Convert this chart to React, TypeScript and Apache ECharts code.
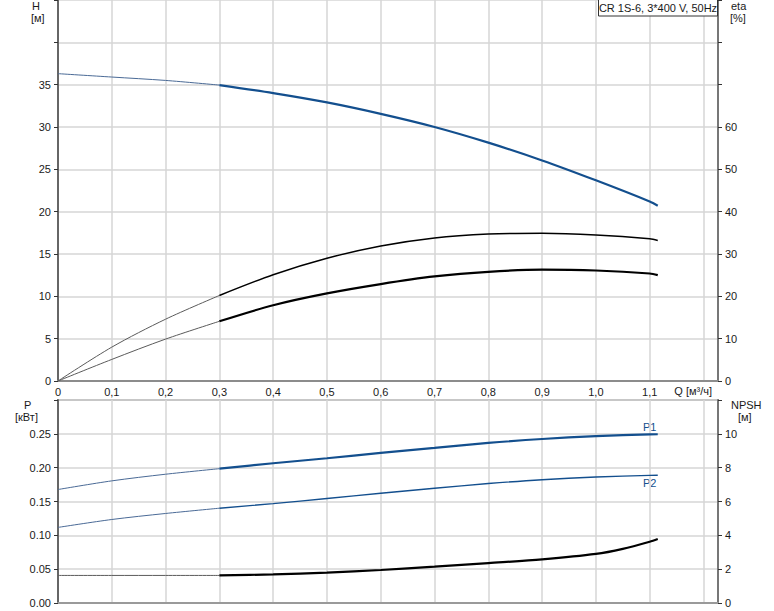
import React, { useEffect, useRef } from 'react';
import * as echarts from 'echarts';

// Flow (Q, m³/h) sample positions
const qThin = [0, 0.1, 0.2, 0.3];
const qThick = [0.3, 0.4, 0.5, 0.6, 0.7, 0.8, 0.9, 1.0, 1.1, 1.115];
const qNpsh = [0.3, 0.4, 0.5, 0.6, 0.7, 0.8, 0.9, 1.0, 1.05, 1.1, 1.115];

// Head H [m]
const headThin = [36.3, 35.9, 35.5, 34.95];
const headThick = [34.95, 34.0, 32.9, 31.55, 30.0, 28.15, 26.05, 23.7, 21.2, 20.7];
// Efficiency eta [%]
const etaUpperThin = [0, 8.0, 14.6, 20.2];
const etaUpperThick = [20.2, 25.1, 29.0, 31.9, 33.8, 34.7, 34.9, 34.5, 33.6, 33.2];
const etaLowerThin = [0, 5.1, 9.9, 14.1];
const etaLowerThick = [14.1, 17.9, 20.7, 22.9, 24.7, 25.8, 26.3, 26.1, 25.4, 25.0];
// Power P [kW]
const p1Thin = [0.1677, 0.1805, 0.1903, 0.1985];
const p1Thick = [0.1985, 0.2065, 0.2139, 0.2218, 0.2292, 0.2365, 0.2424, 0.2466, 0.2492, 0.2494];
const p2Thin = [0.1117, 0.1234, 0.1323, 0.1401];
const p2Thick = [0.1401, 0.1468, 0.1544, 0.1622, 0.1696, 0.1765, 0.1822, 0.1862, 0.1886, 0.1888];
// NPSH [m]
const npshThin = [1.63, 1.63, 1.63, 1.63];
const npshThick = [1.63, 1.69, 1.79, 1.95, 2.15, 2.36, 2.58, 2.9, 3.2, 3.62, 3.78];

const FONT = "'Liberation Sans', Arial, sans-serif";
const TXT = '#1a1a1a';
const BLUE = '#134f8e';
const BLUE_THIN = '#4a6a96';
const GRAY_THIN = '#5a5a5a';

const pairs = (xs: number[], ys: number[]) => xs.map((x, i) => [x, ys[i]]);

const line = (
  name: string,
  xs: number[],
  ys: number[],
  xAxisIndex: number,
  yAxisIndex: number,
  color: string,
  width: number
) => ({
  name,
  type: 'line',
  xAxisIndex,
  yAxisIndex,
  data: pairs(xs, ys),
  showSymbol: false,
  symbol: 'none',
  smooth: 0.3,
  lineStyle: { color, width },
  silent: true,
  z: 5,
});

const App: React.FC = () => {
  const ref = useRef<HTMLDivElement>(null);

  useEffect(() => {
    if (!ref.current) return;
    const chart = echarts.init(ref.current, undefined, { renderer: 'svg' });

    const label = { color: TXT, fontSize: 11, fontFamily: FONT };
    const splitLine = { show: true, lineStyle: { color: '#d6d6d6', width: 1.5 } };
    const xLabelFmt = (v: number) => {
      if (v > 1.15) return '';
      if (Math.abs(v) < 1e-9) return '0';
      return v.toFixed(1).replace('.', ',');
    };

    chart.setOption({
      animation: false,
      backgroundColor: '#ffffff',
      grid: [
        { left: 58, top: 0, width: 660, height: 381 },
        {
          left: 58,
          top: 400,
          width: 660,
          height: 203,
          show: true,
          borderColor: '#9a9a9a',
          borderWidth: 2,
          backgroundColor: 'transparent',
        },
      ],
      xAxis: [
        {
          type: 'value',
          gridIndex: 0,
          min: 0,
          max: 1.227,
          interval: 0.1,
          axisLine: { show: true, onZero: false, lineStyle: { color: '#8c8c8c', width: 2 } },
          axisTick: { show: false },
          axisLabel: { ...label, margin: 5, formatter: xLabelFmt },
          splitLine,
        },
        {
          type: 'value',
          gridIndex: 1,
          min: 0,
          max: 1.227,
          interval: 0.1,
          axisLine: { show: true, onZero: false, lineStyle: { color: '#9a9a9a', width: 2 } },
          axisTick: { show: false },
          axisLabel: { show: false },
          splitLine,
        },
      ],
      yAxis: [
        {
          type: 'value',
          gridIndex: 0,
          position: 'left',
          min: 0,
          max: 45,
          interval: 5,
          axisLine: { show: true, onZero: false, lineStyle: { color: '#666', width: 2 } },
          axisTick: { show: true, length: 4, lineStyle: { color: '#333', width: 1 } },
          axisLabel: { ...label, margin: 7, formatter: (v: number) => (v > 35 ? '' : String(v)) },
          splitLine,
        },
        {
          type: 'value',
          gridIndex: 0,
          position: 'right',
          min: 0,
          max: 90,
          interval: 10,
          axisLine: { show: true, onZero: false, lineStyle: { color: '#777', width: 2 } },
          axisTick: { show: true, length: 4, lineStyle: { color: '#333', width: 1 } },
          axisLabel: { ...label, margin: 7, formatter: (v: number) => (v > 60 ? '' : String(v)) },
          splitLine: { show: false },
        },
        {
          type: 'value',
          gridIndex: 1,
          position: 'left',
          min: 0,
          max: 0.3,
          interval: 0.05,
          axisLine: { show: true, onZero: false, lineStyle: { color: '#666', width: 2 } },
          axisTick: { show: true, length: 4, lineStyle: { color: '#333', width: 1 } },
          axisLabel: {
            ...label,
            margin: 7,
            formatter: (v: number) => (v > 0.26 ? '' : v.toFixed(2)),
          },
          splitLine,
        },
        {
          type: 'value',
          gridIndex: 1,
          position: 'right',
          min: 0,
          max: 12,
          interval: 2,
          axisLine: { show: true, onZero: false, lineStyle: { color: '#777', width: 2 } },
          axisTick: { show: true, length: 4, lineStyle: { color: '#333', width: 1 } },
          axisLabel: { ...label, margin: 7, formatter: (v: number) => (v > 10 ? '' : String(v)) },
          splitLine: { show: false },
        },
      ],
      series: [
        line('H thin', qThin, headThin, 0, 0, BLUE_THIN, 1),
        line('H', qThick, headThick, 0, 0, BLUE, 2.2),
        line('eta1 thin', qThin, etaUpperThin, 0, 1, GRAY_THIN, 1),
        line('eta1', qThick, etaUpperThick, 0, 1, '#000', 1.5),
        line('eta2 thin', qThin, etaLowerThin, 0, 1, GRAY_THIN, 1),
        line('eta2', qThick, etaLowerThick, 0, 1, '#000', 2.2),
        line('P1 thin', qThin, p1Thin, 1, 2, BLUE_THIN, 1),
        line('P1', qThick, p1Thick, 1, 2, BLUE, 2.2),
        line('P2 thin', qThin, p2Thin, 1, 2, BLUE_THIN, 1),
        line('P2', qThick, p2Thick, 1, 2, BLUE, 1.4),
        line('NPSH thin', qThin, npshThin, 1, 3, GRAY_THIN, 1),
        line('NPSH', qNpsh, npshThick, 1, 3, '#000', 2.2),
      ],
      graphic: [
        { type: 'text', left: 32, top: 0, style: { text: 'H', fill: TXT, font: `11px ${FONT}` } },
        { type: 'text', left: 31, top: 12, style: { text: '[м]', fill: TXT, font: `11px ${FONT}` } },
        { type: 'text', left: 731, top: 0, style: { text: 'eta', fill: TXT, font: `11px ${FONT}` } },
        { type: 'text', left: 730, top: 12, style: { text: '[%]', fill: TXT, font: `11px ${FONT}` } },
        { type: 'text', left: 24, top: 399, style: { text: 'P', fill: TXT, font: `11px ${FONT}` } },
        { type: 'text', left: 15, top: 411, style: { text: '[кВт]', fill: TXT, font: `11px ${FONT}` } },
        { type: 'text', left: 731, top: 399, style: { text: 'NPSH', fill: TXT, font: `11px ${FONT}` } },
        { type: 'text', left: 738, top: 411, style: { text: '[м]', fill: TXT, font: `11px ${FONT}` } },
        {
          type: 'text',
          right: 62,
          top: 385,
          style: { text: 'Q [м³/ч]', fill: TXT, font: `11px ${FONT}` },
        },
        {
          type: 'rect',
          shape: { x: 598.5, y: -1, width: 119, height: 17 },
          style: { fill: '#fff', stroke: '#333', lineWidth: 1 },
          z: 20,
        },
        {
          type: 'text',
          x: 658,
          y: 8,
          z: 21,
          style: {
            text: 'CR 1S-6, 3*400 V, 50Hz',
            fill: TXT,
            font: `11px ${FONT}`,
            align: 'center',
            verticalAlign: 'middle',
          },
        },
        { type: 'text', left: 643, top: 421, style: { text: 'P1', fill: BLUE, font: `11px ${FONT}` } },
        { type: 'text', left: 643, top: 477, style: { text: 'P2', fill: BLUE, font: `11px ${FONT}` } },
      ],
    });

    return () => chart.dispose();
  }, []);

  return (
    <div
      ref={ref}
      style={{ position: 'fixed', left: 0, top: 0, width: 774, height: 611, background: '#fff' }}
    />
  );
};

export default App;
